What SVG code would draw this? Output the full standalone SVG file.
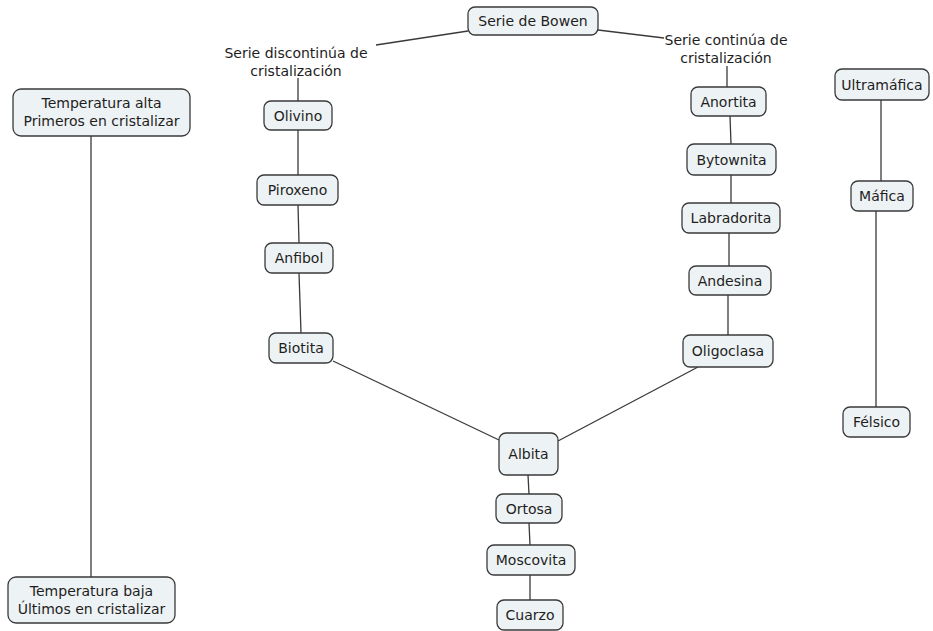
<svg xmlns="http://www.w3.org/2000/svg" width="933" height="631" viewBox="0 0 933 631">
<style>
.n rect{fill:#edf2f4;stroke:#3a3a3a;stroke-width:1.3}
text{font-family:"DejaVu Sans","Verdana",sans-serif;font-size:14px;fill:#1e1e1e;text-anchor:middle}
.c line{stroke:#3a3a3a;stroke-width:1.3}
</style>
<rect width="933" height="631" fill="#fff"/>
<g class="c">
<line x1="468" y1="31" x2="376" y2="45"/>
<line x1="298" y1="78" x2="298" y2="101"/>
<line x1="298" y1="130" x2="298" y2="175"/>
<line x1="298" y1="205" x2="299" y2="243"/>
<line x1="299" y1="273" x2="301" y2="333"/>
<line x1="333" y1="361" x2="499" y2="440"/>
<line x1="598" y1="30" x2="664" y2="38"/>
<line x1="727" y1="66" x2="727" y2="87"/>
<line x1="730" y1="116" x2="731" y2="144"/>
<line x1="731" y1="175" x2="731" y2="203"/>
<line x1="729" y1="233" x2="729" y2="266"/>
<line x1="728" y1="295" x2="728" y2="335"/>
<line x1="698" y1="367" x2="558" y2="441"/>
<line x1="528" y1="475" x2="529" y2="494"/>
<line x1="529" y1="523" x2="530" y2="545"/>
<line x1="530" y1="575" x2="530" y2="600"/>
<line x1="91" y1="136" x2="91" y2="577"/>
<line x1="881" y1="100" x2="881" y2="181"/>
<line x1="876" y1="211" x2="876" y2="407"/>
</g>
<g id="bowen" class="n"><rect x="468" y="7" width="130" height="28" rx="7"/><text x="533" y="26">Serie de Bowen</text></g>
<g id="discontinua"><text x="296" y="58">Serie discontinúa de</text><text x="296" y="76">cristalización</text></g>
<g id="continua"><text x="726" y="45">Serie continúa de</text><text x="726" y="63">cristalización</text></g>
<g id="olivino" class="n"><rect x="264" y="101" width="68" height="29" rx="7"/><text x="298" y="120.5">Olivino</text></g>
<g id="piroxeno" class="n"><rect x="257" y="175" width="81" height="30" rx="7"/><text x="297.5" y="195">Piroxeno</text></g>
<g id="anfibol" class="n"><rect x="265" y="243" width="68" height="30" rx="7"/><text x="299" y="263">Anfibol</text></g>
<g id="biotita" class="n"><rect x="269" y="333" width="64" height="30" rx="7"/><text x="301" y="353">Biotita</text></g>
<g id="albita" class="n"><rect x="499" y="433" width="59" height="42" rx="7"/><text x="528.5" y="459">Albita</text></g>
<g id="ortosa" class="n"><rect x="496" y="494" width="66" height="29" rx="7"/><text x="529" y="513.5">Ortosa</text></g>
<g id="moscovita" class="n"><rect x="487" y="545" width="88" height="30" rx="7"/><text x="531" y="565">Moscovita</text></g>
<g id="cuarzo" class="n"><rect x="497" y="600" width="66" height="30" rx="7"/><text x="530" y="620">Cuarzo</text></g>
<g id="anortita" class="n"><rect x="691" y="87" width="75" height="29" rx="7"/><text x="728.5" y="106.5">Anortita</text></g>
<g id="bytownita" class="n"><rect x="687" y="144" width="89" height="31" rx="7"/><text x="731.5" y="164.5">Bytownita</text></g>
<g id="labradorita" class="n"><rect x="682" y="203" width="98" height="30" rx="7"/><text x="731" y="223">Labradorita</text></g>
<g id="andesina" class="n"><rect x="689" y="266" width="82" height="29" rx="7"/><text x="730" y="285.5">Andesina</text></g>
<g id="oligoclasa" class="n"><rect x="683" y="335" width="90" height="32" rx="7"/><text x="728" y="356">Oligoclasa</text></g>
<g id="ultramafica" class="n"><rect x="835" y="69" width="94" height="31" rx="7"/><text x="882" y="89.5">Ultramáfica</text></g>
<g id="mafica" class="n"><rect x="851" y="181" width="62" height="30" rx="7"/><text x="882" y="201">Máfica</text></g>
<g id="felsico" class="n"><rect x="843" y="407" width="67" height="30" rx="7"/><text x="876.5" y="427">Félsico</text></g>
<g id="talta" class="n"><rect x="13" y="89" width="177" height="47" rx="8"/><text x="101.5" y="108">Temperatura alta</text><text x="101.5" y="126">Primeros en cristalizar</text></g>
<g id="tbaja" class="n"><rect x="8" y="577" width="167" height="46" rx="8"/><text x="91.5" y="596">Temperatura baja</text><text x="91.5" y="614">Últimos en cristalizar</text></g>
</svg>
